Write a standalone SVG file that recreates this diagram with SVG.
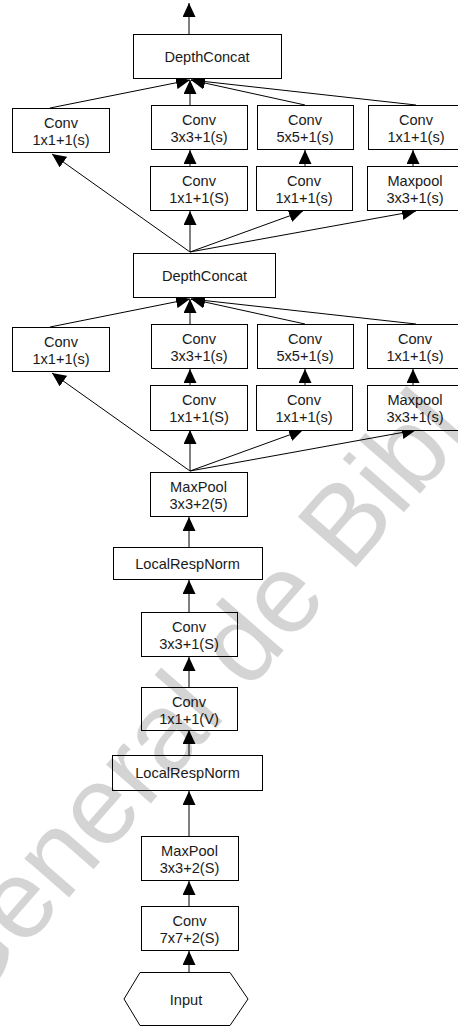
<svg xmlns="http://www.w3.org/2000/svg" width="458" height="1028" viewBox="0 0 458 1028">
  <defs>
    <marker id="ah" markerWidth="14" markerHeight="13" refX="14" refY="6.5" orient="auto" markerUnits="userSpaceOnUse">
      <path d="M0,0 L14,6.5 L0,13 z" fill="#000"/>
    </marker>
    <style>
      .box { fill: #fff; stroke: #000; stroke-width: 1; }
      .lbl { font-family: "Liberation Sans", Arial, sans-serif; font-size: 14.6px; fill: #1a1a1a; text-anchor: middle; }
      .cn { fill: none; stroke: #000; stroke-width: 1; marker-end: url(#ah); }
      .mark { font-family: "Liberation Sans", Arial, sans-serif; font-size: 112px; fill: #000; fill-opacity: 0.17; }
    </style>
  </defs>
  <rect width="458" height="1028" fill="#fff"/>

  <!-- connectors -->
  <g id="connectors">
    <!-- output -->
    <path class="cn" d="M189,34 V3"/>
    <!-- upper inception block -->
    <path class="cn" d="M50,108 L190,80"/>
    <path class="cn" d="M190,105 V80"/>
    <path class="cn" d="M305,105 L191,80"/>
    <path class="cn" d="M416,105 L191,80"/>
    <path class="cn" d="M190,166 V150"/>
    <path class="cn" d="M305,166 V150"/>
    <path class="cn" d="M413,166 V150"/>
    <path class="cn" d="M190,252 L52,154"/>
    <path class="cn" d="M190,252 V211"/>
    <path class="cn" d="M190,252 L303,211"/>
    <path class="cn" d="M190,252 L416,211"/>
    <!-- lower inception block -->
    <path class="cn" d="M50,327 L190,299"/>
    <path class="cn" d="M190,324 V299"/>
    <path class="cn" d="M305,324 L191,299"/>
    <path class="cn" d="M416,324 L191,299"/>
    <path class="cn" d="M190,385 V369"/>
    <path class="cn" d="M305,385 V369"/>
    <path class="cn" d="M413,385 V369"/>
    <path class="cn" d="M190,471 L52,373"/>
    <path class="cn" d="M190,471 V430"/>
    <path class="cn" d="M190,471 L303,430"/>
    <path class="cn" d="M190,471 L416,430"/>
    <!-- stem -->
    <path class="cn" d="M189,547 V517"/>
    <path class="cn" d="M189,612 V580"/>
    <path class="cn" d="M189,687 V657"/>
    <path class="cn" d="M189,755 V730"/>
    <path class="cn" d="M189,836 V791"/>
    <path class="cn" d="M189,906 V881"/>
    <path class="cn" d="M189,972 V951"/>
  </g>

  <!-- upper inception block -->
  <g id="concat2">
    <rect class="box" x="133.5" y="34.5" width="148" height="44"/>
    <text class="lbl" x="207" y="61.5">DepthConcat</text>
  </g>
  <g id="b2-conv1x1">
    <rect class="box" x="12.5" y="108.5" width="97" height="44"/>
    <text class="lbl" x="61" y="127.5">Conv</text>
    <text class="lbl" x="61" y="144.5">1x1+1(s)</text>
  </g>
  <g id="b2-conv3x3">
    <rect class="box" x="151.5" y="105.5" width="96" height="44"/>
    <text class="lbl" x="199" y="125">Conv</text>
    <text class="lbl" x="199" y="142">3x3+1(s)</text>
  </g>
  <g id="b2-conv5x5">
    <rect class="box" x="257.5" y="105.5" width="96" height="44"/>
    <text class="lbl" x="305" y="125">Conv</text>
    <text class="lbl" x="305" y="142">5x5+1(s)</text>
  </g>
  <g id="b2-convpool">
    <rect class="box" x="368.5" y="105.5" width="96" height="44"/>
    <text class="lbl" x="416" y="125">Conv</text>
    <text class="lbl" x="416" y="142">1x1+1(s)</text>
  </g>
  <g id="b2-reduce3">
    <rect class="box" x="150.5" y="166.5" width="97" height="44"/>
    <text class="lbl" x="199" y="186">Conv</text>
    <text class="lbl" x="199" y="203">1x1+1(S)</text>
  </g>
  <g id="b2-reduce5">
    <rect class="box" x="256.5" y="166.5" width="96" height="44"/>
    <text class="lbl" x="304" y="186">Conv</text>
    <text class="lbl" x="304" y="203">1x1+1(s)</text>
  </g>
  <g id="b2-pool">
    <rect class="box" x="367.5" y="166.5" width="96" height="44"/>
    <text class="lbl" x="415" y="186">Maxpool</text>
    <text class="lbl" x="415" y="203">3x3+1(s)</text>
  </g>

  <!-- lower inception block -->
  <g id="concat1">
    <rect class="box" x="133.5" y="253.5" width="142" height="44"/>
    <text class="lbl" x="204.5" y="280.5">DepthConcat</text>
  </g>
  <g id="b1-conv1x1">
    <rect class="box" x="12.5" y="327.5" width="97" height="44"/>
    <text class="lbl" x="61" y="346.5">Conv</text>
    <text class="lbl" x="61" y="363.5">1x1+1(s)</text>
  </g>
  <g id="b1-conv3x3">
    <rect class="box" x="151.5" y="324.5" width="96" height="44"/>
    <text class="lbl" x="199" y="344">Conv</text>
    <text class="lbl" x="199" y="361">3x3+1(s)</text>
  </g>
  <g id="b1-conv5x5">
    <rect class="box" x="257.5" y="324.5" width="96" height="44"/>
    <text class="lbl" x="305" y="344">Conv</text>
    <text class="lbl" x="305" y="361">5x5+1(s)</text>
  </g>
  <g id="b1-convpool">
    <rect class="box" x="367.5" y="324.5" width="97" height="44"/>
    <text class="lbl" x="415" y="344">Conv</text>
    <text class="lbl" x="415" y="361">1x1+1(s)</text>
  </g>
  <g id="b1-reduce3">
    <rect class="box" x="150.5" y="385.5" width="97" height="45"/>
    <text class="lbl" x="199" y="405">Conv</text>
    <text class="lbl" x="199" y="422">1x1+1(S)</text>
  </g>
  <g id="b1-reduce5">
    <rect class="box" x="256.5" y="385.5" width="96" height="45"/>
    <text class="lbl" x="304" y="405">Conv</text>
    <text class="lbl" x="304" y="422">1x1+1(s)</text>
  </g>
  <g id="b1-pool">
    <rect class="box" x="367.5" y="385.5" width="96" height="45"/>
    <text class="lbl" x="415" y="405">Maxpool</text>
    <text class="lbl" x="415" y="422">3x3+1(s)</text>
  </g>

  <!-- stem -->
  <g id="maxpool2">
    <rect class="box" x="150.5" y="472.5" width="97" height="44"/>
    <text class="lbl" x="198.5" y="492">MaxPool</text>
    <text class="lbl" x="198.5" y="509">3x3+2(5)</text>
  </g>
  <g id="lrn2">
    <rect class="box" x="113.5" y="547.5" width="149" height="32"/>
    <text class="lbl" x="187.5" y="568.5">LocalRespNorm</text>
  </g>
  <g id="conv3">
    <rect class="box" x="141.5" y="612.5" width="96" height="44"/>
    <text class="lbl" x="189" y="632">Conv</text>
    <text class="lbl" x="189" y="649">3x3+1(S)</text>
  </g>
  <g id="conv2">
    <rect class="box" x="141.5" y="687.5" width="96" height="43"/>
    <text class="lbl" x="189" y="706.5">Conv</text>
    <text class="lbl" x="189" y="723.5">1x1+1(V)</text>
  </g>
  <g id="lrn1">
    <rect class="box" x="112.5" y="755.5" width="150" height="35"/>
    <text class="lbl" x="187.5" y="778">LocalRespNorm</text>
  </g>
  <g id="maxpool1">
    <rect class="box" x="141.5" y="836.5" width="97" height="44"/>
    <text class="lbl" x="189.5" y="856">MaxPool</text>
    <text class="lbl" x="189.5" y="873">3x3+2(S)</text>
  </g>
  <g id="conv1">
    <rect class="box" x="141.5" y="906.5" width="97" height="44"/>
    <text class="lbl" x="189.5" y="926">Conv</text>
    <text class="lbl" x="189.5" y="943">7x7+2(S)</text>
  </g>
  <g id="input">
    <polygon class="box" points="124,999 140,972.5 230,972.5 248,999 230,1025.5 140,1025.5"/>
    <text class="lbl" x="186" y="1004.5">Input</text>
  </g>

  <!-- library watermark -->
  <text class="mark" transform="translate(-34,1016) rotate(-49)">General de Bibl</text>
</svg>
